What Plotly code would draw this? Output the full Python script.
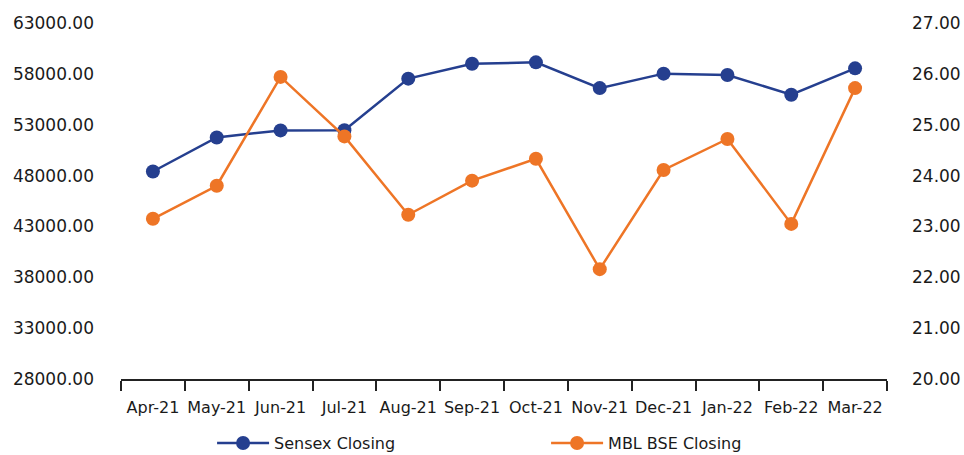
import plotly.graph_objects as go

months = ["Apr-21", "May-21", "Jun-21", "Jul-21", "Aug-21", "Sep-21",
          "Oct-21", "Nov-21", "Dec-21", "Jan-22", "Feb-22", "Mar-22"]
sensex = [48400, 51750, 52440, 52450, 57530, 59000,
          59130, 56600, 58020, 57890, 55950, 58540]
mbl = [23.15, 23.80, 25.94, 24.77, 23.23, 23.90,
       24.33, 22.16, 24.11, 24.72, 23.05, 25.72]

BLUE = "#253F8F"
ORANGE = "#EE7526"
FONT = "DejaVu Sans"

fig = go.Figure()
fig.add_trace(go.Scatter(
    x=months, y=sensex, name="Sensex Closing", mode="lines+markers",
    line=dict(color=BLUE, width=2.5), marker=dict(size=14, color=BLUE),
    yaxis="y"))
fig.add_trace(go.Scatter(
    x=months, y=mbl, name="MBL BSE Closing", mode="lines+markers",
    line=dict(color=ORANGE, width=2.5), marker=dict(size=14, color=ORANGE),
    yaxis="y2"))

fig.update_layout(
    width=964, height=455,
    margin=dict(l=121, r=77, t=23, b=76),
    paper_bgcolor="white", plot_bgcolor="white",
    font=dict(family=FONT, size=16, color="#1a1a1a"),
    showlegend=True,
    legend=dict(orientation="h", xref="container", yref="container",
                x=0.22, xanchor="left", y=0.026, yanchor="middle",
                itemwidth=52, entrywidth=267, font=dict(size=16)),
    xaxis=dict(type="category", range=[-0.5, 11.5], showgrid=False,
               showline=True, linecolor="#222", linewidth=1.5,
               ticks="outside", tickson="boundaries", ticklen=10,
               tickcolor="#222", tickwidth=1.5, tickangle=0,
               ticklabelstandoff=13,
               tickfont=dict(size=16), automargin=False),
    yaxis=dict(range=[28000, 63000], tick0=28000, dtick=5000, tickformat=".2f",
               showgrid=False, zeroline=False, showline=False,
               ticklabelstandoff=26, tickfont=dict(size=17), automargin=False),
    yaxis2=dict(range=[20, 27], tick0=20, dtick=1, tickformat=".2f",
                overlaying="y", side="right", showgrid=False, zeroline=False,
                showline=False, ticklabelstandoff=24, tickfont=dict(size=17),
                automargin=False),
)

fig.write_html("out.html",
               config={"displayModeBar": False},
               post_script="document.body.style.margin='0';"
                           "document.body.style.overflow='hidden';")
